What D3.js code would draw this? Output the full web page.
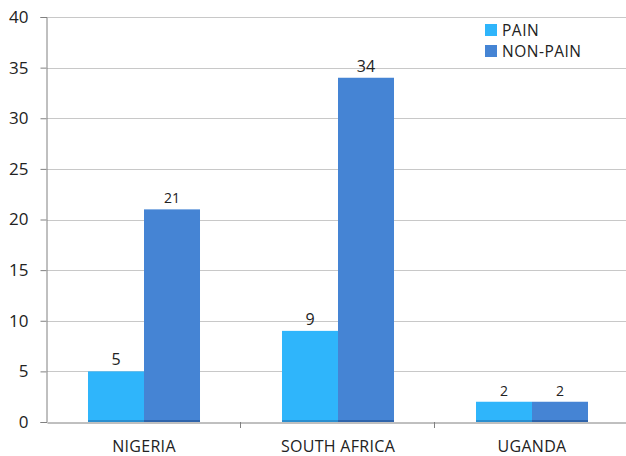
<!DOCTYPE html>
<html>
<head>
<meta charset="utf-8">
<script src="https://cdn.jsdelivr.net/npm/d3@7"></script>
<style>
  html, body { margin: 0; padding: 0; background: #fff; }
  svg { display: block; font-family: "Open Sans", "Noto Sans", sans-serif; }
</style>
</head>
<body>
<svg id="chart" width="626" height="456"></svg>
<script>
// Grouped bars: pain vs non-pain counts per country
const countries = ["NIGERIA", "SOUTH AFRICA", "UGANDA"];
const seriesNames = ["PAIN", "NON-PAIN"];
const painValues = [5, 9, 2];
const nonPainValues = [21, 34, 2];
const yTicks = [0, 5, 10, 15, 20, 25, 30, 35, 40];
const seriesColors = ["#2fb5fb", "#4584d4"];
const seriesEdge = ["#2a8fd0", "#2f64ab"];
const labelSizes = [[16, 16, 14], [14, 16, 14]];

const svg = d3.select("#chart");
const W = 626, H = 456;
const margin = { top: 17, bottom: 34, left: 47 };

const x = d3.scaleBand().domain(countries).range([margin.left, margin.left + 582]).paddingInner(0).paddingOuter(0);
const y = d3.scaleLinear().domain([0, 40]).range([H - margin.bottom, margin.top]);
const inner = d3.scaleBand().domain(seriesNames).range([0, x.bandwidth()]).paddingInner(0).paddingOuter(0.732);

// Horizontal gridlines
svg.append("g")
  .selectAll("line")
  .data(yTicks.filter(t => t > 0))
  .join("line")
  .attr("x1", margin.left).attr("x2", W)
  .attr("y1", d => Math.round(y(d)) + 0.5).attr("y2", d => Math.round(y(d)) + 0.5)
  .attr("stroke", "#c8c8c8").attr("stroke-width", 1);

// Y axis
const yAxis = svg.append("g")
  .attr("transform", `translate(${margin.left - 0.5},0)`)
  .call(d3.axisLeft(y).tickValues(yTicks).tickSize(6).tickPadding(12));
yAxis.select(".domain").attr("stroke", "#808080");
yAxis.selectAll(".tick line").attr("stroke", "#808080");
yAxis.selectAll(".tick text").attr("font-size", 17).attr("fill", "#222")
  .attr("font-family", "'Open Sans', 'Noto Sans', sans-serif");

// Bars
const rows = countries.map((c, i) => ({ country: c, values: [painValues[i], nonPainValues[i]] }));
const groups = svg.append("g").selectAll("g")
  .data(rows).join("g")
  .attr("transform", d => `translate(${x(d.country)},0)`);

const bars = groups.selectAll("g")
  .data(d => d.values.map((v, k) => ({ name: seriesNames[k], v, k })))
  .join("g");
bars.append("rect")
  .attr("x", d => inner(d.name))
  .attr("width", inner.bandwidth())
  .attr("y", d => y(d.v))
  .attr("height", d => y(0) - y(d.v))
  .attr("fill", d => seriesColors[d.k]);
// darker base edge on each bar
bars.append("rect")
  .attr("x", d => inner(d.name))
  .attr("width", inner.bandwidth())
  .attr("y", y(0) - 2)
  .attr("height", 2)
  .attr("fill", d => seriesEdge[d.k]);

// Value labels
rows.forEach((r, i) => {
  r.values.forEach((v, k) => {
    svg.append("text")
      .attr("x", x(r.country) + inner(seriesNames[k]) + inner.bandwidth() / 2)
      .attr("y", y(v) - 6)
      .attr("text-anchor", "middle")
      .attr("font-size", labelSizes[k][i])
      .attr("fill", "#222")
      .text(v);
  });
});

// X axis
const xAxis = svg.append("g")
  .attr("transform", `translate(0,${Math.round(y(0)) + 0.5})`)
  .call(d3.axisBottom(x).tickSize(0).tickPadding(0));
xAxis.select(".domain").attr("stroke", "#808080");
xAxis.selectAll(".tick text")
  .attr("y", 29).attr("dy", null)
  .attr("font-size", 16).attr("letter-spacing", 0.3).attr("fill", "#222")
  .attr("font-family", "'Open Sans', 'Noto Sans', sans-serif");

// Category separators below the baseline
svg.append("g").selectAll("line")
  .data(countries.slice(1))
  .join("line")
  .attr("x1", d => Math.round(x(d)) - 0.5).attr("x2", d => Math.round(x(d)) - 0.5)
  .attr("y1", y(0)).attr("y2", y(0) + 6)
  .attr("stroke", "#808080");

// Legend
const legend = svg.append("g").attr("transform", "translate(485,24)");
seriesNames.forEach((n, k) => {
  const g = legend.append("g").attr("transform", `translate(0,${k * 21})`);
  g.append("rect").attr("width", 12).attr("height", 12).attr("fill", seriesColors[k]);
  g.append("text").attr("x", 17).attr("y", 12).attr("font-size", 15.5)
    .attr("letter-spacing", 0.5).attr("fill", "#222").text(n);
});
</script>
</body>
</html>
